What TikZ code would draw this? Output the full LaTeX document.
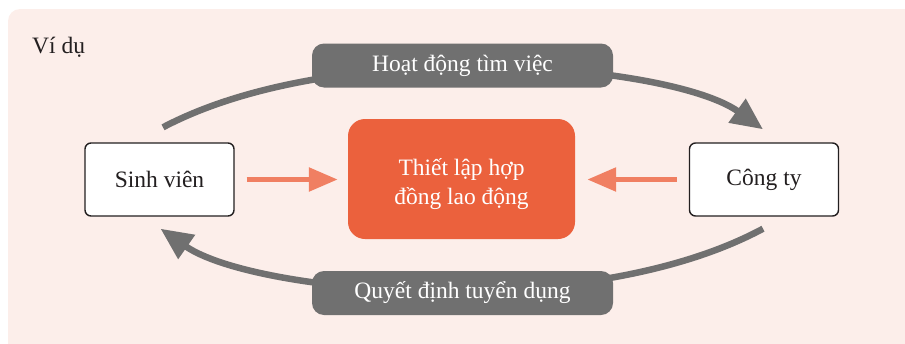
\documentclass[tikz,border=0pt]{standalone}
\usepackage{fontspec}
\setmainfont{Liberation Serif}
\usetikzlibrary{arrows.meta,calc}
\definecolor{bgpink}{HTML}{FCEEEA}
\definecolor{arcgray}{HTML}{707070}
\definecolor{boxorange}{HTML}{EB613D}
\definecolor{arrsalmon}{HTML}{F07F62}
\definecolor{inkdark}{HTML}{231F20}
\begin{document}
\begin{tikzpicture}[x=1pt,y=-1pt,
  txt/.style={font=\fontsize{23.5}{29}\selectfont},
  whitebox/.style={txt, draw=inkdark, line width=1.4pt, fill=white, rounded corners=6pt,
    minimum width=149pt, minimum height=73pt, inner sep=0pt, text=inkdark},
  graylabel/.style={txt, fill=arcgray, rounded corners=12pt, minimum width=301pt,
    minimum height=44pt, inner sep=0pt, text=white},
  centerbox/.style={txt, fill=boxorange, rounded corners=17pt, minimum width=227pt,
    minimum height=120pt, inner sep=0pt, text=white, align=center},
  arcarrow/.style={draw=arcgray, line width=6.5pt, -{Triangle[length=32pt,width=28pt]}},
  feedarrow/.style={draw=arrsalmon, line width=5.5pt, -{Triangle[length=29pt,width=23pt]}}
]
\useasboundingbox (0,0) rectangle (905,343);
\begin{scope}
  \clip (0,0) rectangle (905,343);
  \fill[bgpink, rounded corners=12pt] (8,9) rectangle (925,365);
\end{scope}

\node[txt, anchor=base west, text=inkdark, inner sep=0pt] (title) at (32,53) {Ví dụ};

\node[whitebox] (sv) at (159.5,179.5) {Sinh viên};
\node[whitebox] (ct) at (764,179.5) {Công ty};
\node[centerbox] (cb) at (461.5,179) {\rule{0pt}{27pt}Thiết lập hợp\\đồng lao động};

% top arc
\coordinate (t1) at ($(sv.north)+(3.5,-15)$);
\coordinate (t2) at ($(ct.north)+(-1,-13)$);
\draw[arcarrow] (t1) .. controls (340,34) and (672,64) .. (t2);
\node[graylabel] (toplbl) at (462.5,65.5) {Hoạt động tìm việc};

% bottom arc
\coordinate (b1) at ($(ct.south)+(-1,12)$);
\coordinate (b2) at ($(sv.south)+(1,12)$);
\draw[arcarrow] (b1) .. controls (586,324) and (254,294) .. (b2);
\node[graylabel] (botlbl) at (462.5,293) {Quyết định tuyển dụng};

% feed arrows
\draw[feedarrow] ($(sv.east)+(12,0)$) -- ($(sv.east -| cb.west)+(-10,0)$);
\draw[feedarrow] ($(ct.west)+(-12,0)$) -- ($(ct.west -| cb.east)+(12,0)$);
\end{tikzpicture}
\end{document}
